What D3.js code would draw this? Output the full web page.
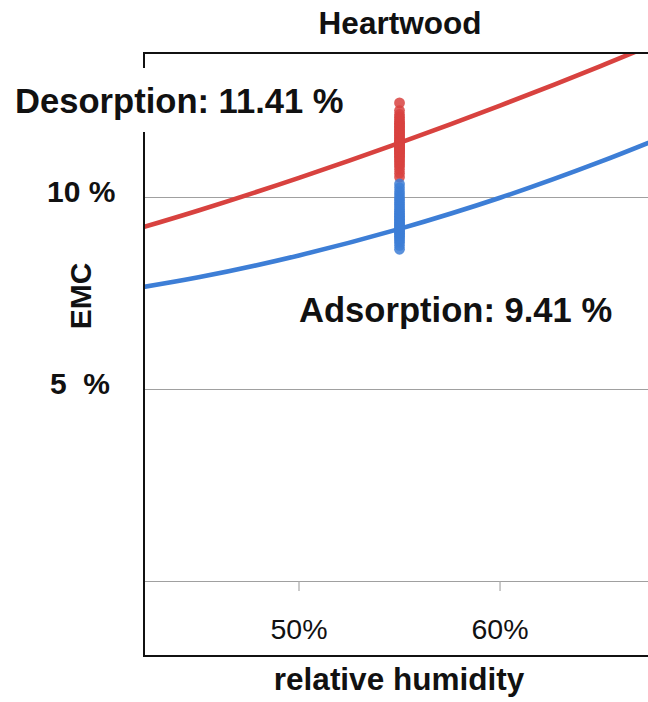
<!DOCTYPE html>
<html>
<head>
<meta charset="utf-8">
<script src="https://cdn.jsdelivr.net/npm/d3@7"></script>
<style>
  html, body { margin: 0; padding: 0; background: #fff; }
  svg { display: block; font-family: "Liberation Sans", Arial, sans-serif; }
  .ytick { white-space: pre; }
</style>
</head>
<body>
<svg id="chart" width="648" height="702"></svg>
<script>
// Relative humidity (%) at which the sorption curves are sampled
const humidity = [40, 45, 50, 55, 60, 65, 70];
// Equilibrium moisture content (%) along each curve
const desorptionCurve = [8.87, 9.65, 10.50, 11.41, 12.38, 13.41, 14.50];
const adsorptionCurve = [7.47, 7.91, 8.48, 9.17, 9.98, 10.92, 11.97];

// Current humidity and the spread of measured EMC values at it
const currentHumidity = 55;
const desorptionSamples = [12.45, 12.25, 12.15, 12.08, 12.02, 11.96, 11.92, 11.88, 11.84, 11.80,
  11.76, 11.72, 11.68, 11.64, 11.60, 11.56, 11.52, 11.48, 11.45, 11.42, 11.39, 11.36, 11.33,
  11.30, 11.27, 11.24, 11.21, 11.18, 11.14, 11.10, 11.06, 11.02, 10.97, 10.92, 10.86, 10.80,
  10.72, 10.62, 10.52];
const adsorptionSamples = [10.34, 10.24, 10.14, 10.06, 9.98, 9.92, 9.86, 9.80, 9.74, 9.68,
  9.63, 9.58, 9.54, 9.50, 9.46, 9.42, 9.38, 9.34, 9.30, 9.26, 9.22, 9.18, 9.14, 9.10, 9.06,
  9.02, 8.98, 8.93, 8.88, 8.82, 8.74, 8.64];

// Reported values
const desorptionValue = 11.41;
const adsorptionValue = 9.41;

// Axis ticks
const xTicks = [50, 60];
const xTickLabels = ["50%", "60%"];
const yTicks = [0, 5, 10];
const yTickLabels = ["", "5  %", "10 %"];

const title = "Heartwood";
const xTitle = "relative humidity";
const yTitle = "EMC";

const svg = d3.select("#chart");
const plotLeft = 144, plotTop = 53, plotRight = 648, plotBottom = 656;

const x = d3.scaleLinear().domain([42.29, 67.36]).range([plotLeft, plotRight]);
const y = d3.scaleLinear().domain([-1.95, 13.75]).range([plotBottom, plotTop]);

const red = "#d8423f";
const blue = "#3d7ed6";

svg.append("defs").append("clipPath").attr("id", "plot")
  .append("rect").attr("x", plotLeft).attr("y", plotTop)
  .attr("width", plotRight - plotLeft + 20).attr("height", plotBottom - plotTop);

// Horizontal gridlines
svg.append("g").selectAll("line").data(yTicks).join("line")
  .attr("x1", plotLeft).attr("x2", plotRight + 10)
  .attr("y1", d => Math.round(y(d)) + 0.5).attr("y2", d => Math.round(y(d)) + 0.5)
  .attr("stroke", "#a0a0a0").attr("stroke-width", 1.2);

// Small tick marks under the baseline gridline
svg.append("g").selectAll("line").data(xTicks).join("line")
  .attr("x1", d => x(d)).attr("x2", d => x(d))
  .attr("y1", y(0)).attr("y2", y(0) + 10)
  .attr("stroke", "#a8a8a8").attr("stroke-width", 1.2);

// x tick labels
svg.append("g").selectAll("text").data(xTicks).join("text")
  .attr("x", d => x(d)).attr("y", 639)
  .attr("text-anchor", "middle")
  .attr("font-size", 28.5).attr("fill", "#111")
  .text((d, i) => xTickLabels[i]);

// y tick labels
svg.append("g").selectAll("text").data(yTicks).join("text")
  .attr("class", "ytick")
  .attr("x", d => d === 10 ? 47 : 50).attr("y", d => y(d) + 5)
  .attr("text-anchor", "start")
  .attr("font-size", 30).attr("font-weight", "bold").attr("fill", "#111")
  .text((d, i) => yTickLabels[i]);

// Curves
const line = d3.line()
  .x((d, i) => x(humidity[i]))
  .y(d => y(d))
  .curve(d3.curveMonotoneX);

const plot = svg.append("g").attr("clip-path", "url(#plot)");

plot.append("path").datum(desorptionCurve).attr("d", line)
  .attr("fill", "none").attr("stroke", red).attr("stroke-width", 4.6);
plot.append("path").datum(adsorptionCurve).attr("d", line)
  .attr("fill", "none").attr("stroke", blue).attr("stroke-width", 4.6);

// Sample columns at current humidity
plot.append("g").selectAll("circle").data(desorptionSamples).join("circle")
  .attr("cx", x(currentHumidity)).attr("cy", d => y(d)).attr("r", 5.4)
  .attr("fill", red).attr("fill-opacity", 0.85);
plot.append("g").selectAll("circle").data(adsorptionSamples).join("circle")
  .attr("cx", x(currentHumidity)).attr("cy", d => y(d)).attr("r", 5.4)
  .attr("fill", blue).attr("fill-opacity", 0.85);

// Frame: top, left and bottom edges
const frame = svg.append("g").attr("stroke", "#111").attr("stroke-width", 2);
frame.append("line").attr("x1", plotLeft).attr("x2", plotRight + 10).attr("y1", plotTop).attr("y2", plotTop);
frame.append("line").attr("x1", plotLeft).attr("x2", plotLeft).attr("y1", plotTop - 1).attr("y2", plotBottom + 1);
frame.append("line").attr("x1", plotLeft).attr("x2", plotRight + 10).attr("y1", plotBottom).attr("y2", plotBottom);

// Titles
svg.append("text").attr("x", 400).attr("y", 34)
  .attr("text-anchor", "middle").attr("font-size", 31.5).attr("font-weight", "bold")
  .attr("fill", "#111").text(title);

svg.append("text").attr("x", 399).attr("y", 690)
  .attr("text-anchor", "middle").attr("font-size", 31.5).attr("font-weight", "bold")
  .attr("fill", "#111").text(xTitle);

svg.append("text")
  .attr("transform", "translate(91,296) rotate(-90)")
  .attr("text-anchor", "middle").attr("font-size", 30).attr("font-weight", "bold")
  .attr("fill", "#111").text(yTitle);

// Value labels
const fmt = d3.format(".2f");
const desLabel = svg.append("g");
desLabel.append("rect").attr("x", 8).attr("y", 68).attr("width", 345).attr("height", 64)
  .attr("fill", "#fff");
desLabel.append("text").attr("x", 15).attr("y", 113)
  .attr("font-size", 34.6).attr("font-weight", "bold").attr("fill", "#111")
  .text(`Desorption: ${fmt(desorptionValue)} %`);

svg.append("text").attr("x", 299).attr("y", 322)
  .attr("font-size", 34.6).attr("font-weight", "bold").attr("fill", "#111")
  .text(`Adsorption: ${fmt(adsorptionValue)} %`);
</script>
</body>
</html>
